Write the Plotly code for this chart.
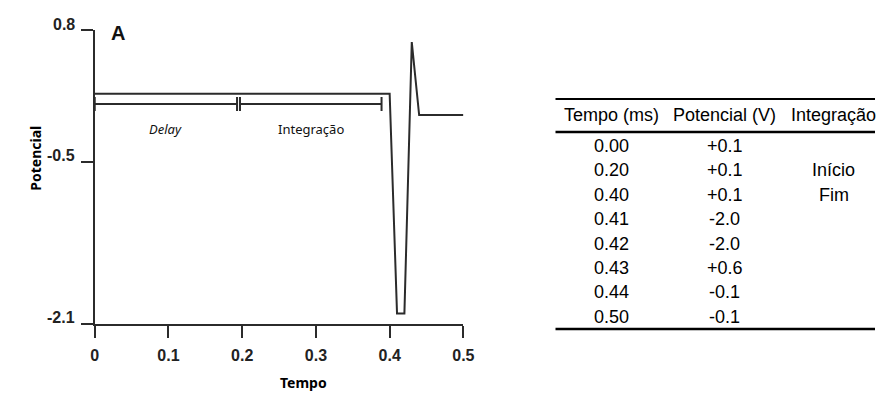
import plotly.graph_objects as go

# ---- data ----
curve_t = [0.00, 0.20, 0.40, 0.41, 0.42, 0.43, 0.44, 0.50]
curve_v = [0.17, 0.17, 0.17, -2.00, -2.00, 0.68, -0.04, -0.04]

phase_names = ["Delay", "Integração"]
phase_start = [0.0, 0.197]
phase_end = [0.193, 0.389]
phase_level = 0.069
phase_label_level = -0.178

x_ticks = [0, 0.1, 0.2, 0.3, 0.4, 0.5]
x_ticktext = ["0", "0.1", "0.2", "0.3", "0.4", "0.5"]
y_ticks = [0.8, -0.5, -2.1]
y_ticktext = ["0.8", "-0.5", "-2.1"]

tbl_headers = ["Tempo (ms)", "Potencial (V)", "Integração"]
tbl_tempo = ["0.00", "0.20", "0.40", "0.41", "0.42", "0.43", "0.44", "0.50"]
tbl_pot = ["+0.1", "+0.1", "+0.1", "-2.0", "-2.0", "+0.6", "-0.1", "-0.1"]
tbl_integ = ["", "Início", "Fim", "", "", "", "", ""]

# ---- layout helpers ----
W, H = 886, 403
LINE = "#2b2b2b"
TICKFONT = dict(family="Liberation Sans Narrow, Liberation Sans, Arial, sans-serif",
                size=16, color="#222222", weight="bold")
LBLFONT = "Noto Sans, Open Sans, sans-serif"
TBLFONT = dict(family="Liberation Sans, Arial, sans-serif", size=18, color="#000000")

def px(x):
    return x / W

def py(y):
    return 1 - y / H

fig = go.Figure()

fig.add_trace(go.Scatter(x=curve_t, y=curve_v, mode="lines",
                         line=dict(color=LINE, width=2), showlegend=False,
                         hoverinfo="skip"))

for name, s, e in zip(phase_names, phase_start, phase_end):
    fig.add_trace(go.Scatter(x=[s, e], y=[phase_level, phase_level], mode="lines+markers",
                             line=dict(color=LINE, width=2),
                             marker=dict(symbol="line-ns-open", size=10,
                                         line=dict(color=LINE, width=2)),
                             showlegend=False, hoverinfo="skip"))
    fig.add_annotation(x=(s + e) / 2, y=phase_label_level, text=name, showarrow=False,
                       font=dict(family=LBLFONT, size=13, color="#111111",
                                 style="italic" if name == "Delay" else "normal"))

fig.add_annotation(x=0.032, y=0.77, text="A", showarrow=False,
                   font=dict(family=TICKFONT["family"], size=20, color="#111111", weight="bold"))

# y tick labels (sit slightly above their ticks, as in the reference)
for v, t in zip(y_ticks, y_ticktext):
    fig.add_annotation(xref="paper", yref="y", x=px(74), y=v, text=t, showarrow=False,
                       xanchor="right", yanchor="middle", yshift=6, font=TICKFONT)

# axis titles
fig.add_annotation(xref="paper", yref="paper", x=px(20), y=py(158.5), text="Potencial",
                   textangle=-90, showarrow=False,
                   font=dict(family=LBLFONT, size=14, color="#000000", weight="bold"))
fig.add_annotation(xref="paper", yref="paper", x=px(279), y=py(394), text="Tempo",
                   showarrow=False,
                   font=dict(family=LBLFONT, size=14, color="#000000", weight="bold"))

# table
col_x = [618, 733, 844]
header_y = 115
row_y0, row_step = 146, 24.4
for cx, h in zip(col_x, tbl_headers):
    fig.add_annotation(xref="paper", yref="paper", x=px(cx), y=py(header_y), text=h,
                       showarrow=False, xanchor="center", yanchor="middle", font=TBLFONT)
for i, (a, b, c) in enumerate(zip(tbl_tempo, tbl_pot, tbl_integ)):
    yy = py(row_y0 + i * row_step)
    for cx, v in zip(col_x, (a, b, c)):
        if v:
            fig.add_annotation(xref="paper", yref="paper", x=px(cx), y=yy, text=v,
                               showarrow=False, xanchor="center", yanchor="middle",
                               font=TBLFONT)
for ly, lw in [(99, 2), (132, 2.5), (329, 2.5)]:
    fig.add_shape(type="line", xref="paper", yref="paper", x0=px(561), x1=1,
                  y0=py(ly), y1=py(ly), line=dict(color="#000000", width=lw))

fig.update_layout(
    width=W, height=H, autosize=False,
    margin=dict(l=0, r=0, t=0, b=0),
    paper_bgcolor="white", plot_bgcolor="white",
    xaxis=dict(domain=[92.3 / W, 467.3 / W], range=[0, 0.5], tickvals=x_ticks,
               ticktext=x_ticktext, showline=True, linecolor=LINE, linewidth=2,
               ticks="outside", ticklen=12, tickwidth=2, tickcolor=LINE,
               showgrid=False, zeroline=False, tickfont=TICKFONT, ticklabelstandoff=4,
               fixedrange=True),
    yaxis=dict(domain=[(H - 323.5) / H, (H - 30) / H], range=[-2.1, 0.8], tickvals=y_ticks,
               showticklabels=False, showline=True, linecolor=LINE, linewidth=2,
               ticks="outside", ticklen=12, tickwidth=2, tickcolor=LINE,
               showgrid=False, zeroline=False, fixedrange=True),
)

fig.write_html("out.html")
